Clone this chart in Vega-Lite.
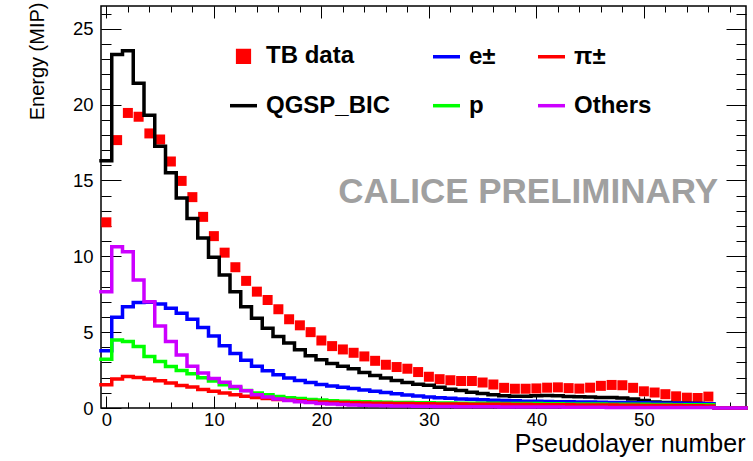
{
  "$schema": "https://vega.github.io/schema/vega-lite/v6.json",
  "width": 645,
  "height": 402,
  "autosize": {"type": "none"},
  "padding": {"left": 101, "top": 6, "right": 7, "bottom": 53},
  "background": "white",
  "config": {
    "font": "Liberation Sans",
    "view": {"stroke": "black", "strokeWidth": 1.5},
    "axis": {"grid": false, "domain": false, "labelFlush": false, "labelOverlap": false, "tickColor": "black", "labelColor": "black", "titleColor": "black", "tickWidth": 1}
  },
  "datasets": {
    "hist": [
      {"bin": 0, "lo": -0.5, "tb": 12.24, "qgsp": 16.3, "e": 3.77, "p": 3.22, "pi": 1.53, "oth": 7.67},
      {"bin": 1, "lo": 0.5, "tb": 17.66, "qgsp": 23.3, "e": 5.99, "p": 4.49, "pi": 1.91, "oth": 10.63},
      {"bin": 2, "lo": 1.5, "tb": 19.45, "qgsp": 23.55, "e": 6.68, "p": 4.38, "pi": 2.08, "oth": 10.3},
      {"bin": 3, "lo": 2.5, "tb": 19.2, "qgsp": 21.4, "e": 6.95, "p": 4.05, "pi": 2.01, "oth": 8.44},
      {"bin": 4, "lo": 3.5, "tb": 18.1, "qgsp": 19.3, "e": 6.97, "p": 3.4, "pi": 1.91, "oth": 7.01},
      {"bin": 5, "lo": 4.5, "tb": 17.7, "qgsp": 17.25, "e": 6.86, "p": 3.07, "pi": 1.8, "oth": 5.41},
      {"bin": 6, "lo": 5.5, "tb": 16.25, "qgsp": 15.5, "e": 6.58, "p": 2.74, "pi": 1.64, "oth": 4.38},
      {"bin": 7, "lo": 6.5, "tb": 14.97, "qgsp": 13.85, "e": 6.25, "p": 2.47, "pi": 1.49, "oth": 3.5},
      {"bin": 8, "lo": 7.5, "tb": 13.9, "qgsp": 12.5, "e": 5.85, "p": 2.26, "pi": 1.38, "oth": 2.75},
      {"bin": 9, "lo": 8.5, "tb": 12.6, "qgsp": 11.2, "e": 5.3, "p": 2.0, "pi": 1.22, "oth": 2.3},
      {"bin": 10, "lo": 9.5, "tb": 11.33, "qgsp": 9.93, "e": 4.75, "p": 1.78, "pi": 1.1, "oth": 1.95},
      {"bin": 11, "lo": 10.5, "tb": 10.24, "qgsp": 8.77, "e": 4.1, "p": 1.53, "pi": 0.99, "oth": 1.7},
      {"bin": 12, "lo": 11.5, "tb": 9.28, "qgsp": 7.67, "e": 3.6, "p": 1.32, "pi": 0.88, "oth": 1.42},
      {"bin": 13, "lo": 12.5, "tb": 8.38, "qgsp": 6.68, "e": 3.15, "p": 1.16, "pi": 0.78, "oth": 1.14},
      {"bin": 14, "lo": 13.5, "tb": 7.67, "qgsp": 5.92, "e": 2.75, "p": 0.99, "pi": 0.69, "oth": 0.88},
      {"bin": 15, "lo": 14.5, "tb": 7.12, "qgsp": 5.26, "e": 2.45, "p": 0.88, "pi": 0.62, "oth": 0.72},
      {"bin": 16, "lo": 15.5, "tb": 6.51, "qgsp": 4.71, "e": 2.2, "p": 0.76, "pi": 0.56, "oth": 0.6},
      {"bin": 17, "lo": 16.5, "tb": 5.85, "qgsp": 4.28, "e": 1.98, "p": 0.68, "pi": 0.51, "oth": 0.5},
      {"bin": 18, "lo": 17.5, "tb": 5.45, "qgsp": 3.84, "e": 1.82, "p": 0.62, "pi": 0.47, "oth": 0.42},
      {"bin": 19, "lo": 18.5, "tb": 5.0, "qgsp": 3.45, "e": 1.68, "p": 0.56, "pi": 0.43, "oth": 0.36},
      {"bin": 20, "lo": 19.5, "tb": 4.45, "qgsp": 3.18, "e": 1.55, "p": 0.52, "pi": 0.4, "oth": 0.3},
      {"bin": 21, "lo": 20.5, "tb": 4.08, "qgsp": 2.94, "e": 1.45, "p": 0.48, "pi": 0.38, "oth": 0.26},
      {"bin": 22, "lo": 21.5, "tb": 3.86, "qgsp": 2.75, "e": 1.36, "p": 0.45, "pi": 0.36, "oth": 0.23},
      {"bin": 23, "lo": 22.5, "tb": 3.64, "qgsp": 2.58, "e": 1.28, "p": 0.43, "pi": 0.34, "oth": 0.2},
      {"bin": 24, "lo": 23.5, "tb": 3.4, "qgsp": 2.34, "e": 1.19, "p": 0.41, "pi": 0.33, "oth": 0.18},
      {"bin": 25, "lo": 24.5, "tb": 3.11, "qgsp": 2.14, "e": 1.1, "p": 0.39, "pi": 0.32, "oth": 0.16},
      {"bin": 26, "lo": 25.5, "tb": 2.85, "qgsp": 1.97, "e": 1.03, "p": 0.38, "pi": 0.31, "oth": 0.15},
      {"bin": 27, "lo": 26.5, "tb": 2.7, "qgsp": 1.81, "e": 0.94, "p": 0.37, "pi": 0.3, "oth": 0.14},
      {"bin": 28, "lo": 27.5, "tb": 2.59, "qgsp": 1.68, "e": 0.86, "p": 0.36, "pi": 0.29, "oth": 0.13},
      {"bin": 29, "lo": 28.5, "tb": 2.37, "qgsp": 1.57, "e": 0.79, "p": 0.35, "pi": 0.28, "oth": 0.12},
      {"bin": 30, "lo": 29.5, "tb": 2.06, "qgsp": 1.5, "e": 0.73, "p": 0.34, "pi": 0.28, "oth": 0.11},
      {"bin": 31, "lo": 30.5, "tb": 1.9, "qgsp": 1.37, "e": 0.68, "p": 0.33, "pi": 0.27, "oth": 0.1},
      {"bin": 32, "lo": 31.5, "tb": 1.83, "qgsp": 1.24, "e": 0.64, "p": 0.33, "pi": 0.26, "oth": 0.1},
      {"bin": 33, "lo": 32.5, "tb": 1.78, "qgsp": 1.15, "e": 0.6, "p": 0.32, "pi": 0.26, "oth": 0.09},
      {"bin": 34, "lo": 33.5, "tb": 1.78, "qgsp": 1.04, "e": 0.57, "p": 0.32, "pi": 0.25, "oth": 0.09},
      {"bin": 35, "lo": 34.5, "tb": 1.68, "qgsp": 0.96, "e": 0.54, "p": 0.31, "pi": 0.25, "oth": 0.08},
      {"bin": 36, "lo": 35.5, "tb": 1.55, "qgsp": 0.88, "e": 0.51, "p": 0.31, "pi": 0.24, "oth": 0.08},
      {"bin": 37, "lo": 36.5, "tb": 1.33, "qgsp": 0.8, "e": 0.49, "p": 0.3, "pi": 0.24, "oth": 0.07},
      {"bin": 38, "lo": 37.5, "tb": 1.27, "qgsp": 0.77, "e": 0.47, "p": 0.3, "pi": 0.23, "oth": 0.07},
      {"bin": 39, "lo": 38.5, "tb": 1.27, "qgsp": 0.77, "e": 0.45, "p": 0.29, "pi": 0.23, "oth": 0.07},
      {"bin": 40, "lo": 39.5, "tb": 1.29, "qgsp": 0.8, "e": 0.44, "p": 0.29, "pi": 0.22, "oth": 0.06},
      {"bin": 41, "lo": 40.5, "tb": 1.34, "qgsp": 0.82, "e": 0.43, "p": 0.28, "pi": 0.22, "oth": 0.06},
      {"bin": 42, "lo": 41.5, "tb": 1.36, "qgsp": 0.8, "e": 0.42, "p": 0.28, "pi": 0.21, "oth": 0.06},
      {"bin": 43, "lo": 42.5, "tb": 1.31, "qgsp": 0.76, "e": 0.41, "p": 0.27, "pi": 0.21, "oth": 0.05},
      {"bin": 44, "lo": 43.5, "tb": 1.28, "qgsp": 0.74, "e": 0.4, "p": 0.27, "pi": 0.2, "oth": 0.05},
      {"bin": 45, "lo": 44.5, "tb": 1.34, "qgsp": 0.72, "e": 0.39, "p": 0.26, "pi": 0.2, "oth": 0.05},
      {"bin": 46, "lo": 45.5, "tb": 1.46, "qgsp": 0.7, "e": 0.38, "p": 0.26, "pi": 0.19, "oth": 0.05},
      {"bin": 47, "lo": 46.5, "tb": 1.52, "qgsp": 0.69, "e": 0.37, "p": 0.25, "pi": 0.19, "oth": 0.04},
      {"bin": 48, "lo": 47.5, "tb": 1.5, "qgsp": 0.66, "e": 0.36, "p": 0.25, "pi": 0.18, "oth": 0.04},
      {"bin": 49, "lo": 48.5, "tb": 1.33, "qgsp": 0.6, "e": 0.35, "p": 0.24, "pi": 0.18, "oth": 0.04},
      {"bin": 50, "lo": 49.5, "tb": 1.1, "qgsp": 0.5, "e": 0.34, "p": 0.24, "pi": 0.17, "oth": 0.04},
      {"bin": 51, "lo": 50.5, "tb": 1.02, "qgsp": 0.4, "e": 0.33, "p": 0.23, "pi": 0.17, "oth": 0.03},
      {"bin": 52, "lo": 51.5, "tb": 0.91, "qgsp": 0.36, "e": 0.32, "p": 0.23, "pi": 0.16, "oth": 0.03},
      {"bin": 53, "lo": 52.5, "tb": 0.77, "qgsp": 0.33, "e": 0.31, "p": 0.22, "pi": 0.16, "oth": 0.03},
      {"bin": 54, "lo": 53.5, "tb": 0.68, "qgsp": 0.31, "e": 0.3, "p": 0.22, "pi": 0.15, "oth": 0.03},
      {"bin": 55, "lo": 54.5, "tb": 0.66, "qgsp": 0.3, "e": 0.29, "p": 0.21, "pi": 0.15, "oth": 0.03},
      {"bin": 56, "lo": 55.5, "tb": 0.75, "qgsp": 0.28, "e": 0.28, "p": 0.21, "pi": 0.14, "oth": 0.03},
      {"bin": 57, "lo": 56.5, "tb": null, "qgsp": 0, "e": 0, "p": 0, "pi": 0, "oth": 0},
      {"bin": 58, "lo": 57.5, "tb": null, "qgsp": 0, "e": 0, "p": 0, "pi": 0, "oth": 0},
      {"bin": 59, "lo": 58.5, "tb": null, "qgsp": 0, "e": 0, "p": 0, "pi": 0, "oth": 0},
      {"bin": null, "lo": 59.5, "tb": null, "qgsp": 0, "e": 0, "p": 0, "pi": 0, "oth": 0}
    ]
  },
  "data": {"name": "hist"},
  "resolve": {"axis": {"x": "independent", "y": "independent"}},
  "layer": [
    {
      "data": {"values": [{"note": "CALICE PRELIMINARY"}]},
      "mark": {"type": "text", "align": "right", "baseline": "alphabetic", "fontSize": 35, "fontWeight": "bold", "color": "#a0a0a0", "font": "Liberation Sans"},
      "encoding": {
        "x": {"datum": 56.9, "type": "quantitative", "scale": {"domain": [-0.5, 59.5], "nice": false, "zero": false}, "axis": null},
        "y": {"datum": 13.52, "type": "quantitative", "scale": {"domain": [0, 26.5], "nice": false, "zero": false}, "axis": null},
        "text": {"field": "note"}
      }
    },
    {
      "mark": {"type": "point", "shape": "square", "filled": true, "size": 100, "opacity": 1, "strokeWidth": 0},
      "encoding": {
        "x": {"field": "bin", "type": "quantitative", "scale": {"domain": [-0.5, 59.5], "nice": false, "zero": false},
          "axis": {"orient": "bottom", "values": [0, 10, 20, 30, 40, 50], "tickSize": -12, "labelPadding": 14.6, "labelFontSize": 18.5, "labelFont": "Liberation Sans",
            "title": "Pseudolayer number", "titleFont": "Liberation Sans", "titleFontSize": 25, "titleFontWeight": "normal", "titleAnchor": "end", "titleAlign": "right", "titleBaseline": "alphabetic", "titleX": 644, "titleY": 43}},
        "y": {"field": "tb", "type": "quantitative", "scale": {"domain": [0, 26.5], "nice": false, "zero": false},
          "axis": {"orient": "left", "values": [0, 5, 10, 15, 20, 25], "tickSize": -20, "labelPadding": 28, "labelFontSize": 18.5, "labelFont": "Liberation Sans", "labelBaseline": "middle",
            "title": "Energy (MIP)", "titleFont": "Liberation Sans", "titleFontSize": 20, "titleFontWeight": "normal", "titleAnchor": "end", "titleAlign": "right", "titleBaseline": "alphabetic", "titleAngle": -90, "titleX": -58, "titleY": -4}},
        "color": {"datum": "tb",
          "scale": {"domain": ["tb", "e", "pi", "qgsp", "p", "oth"], "range": ["#ff0000", "#0000ff", "#ff0000", "#000000", "#00ff00", "#cc00ff"]},
          "legend": {
            "title": null, "orient": "none", "legendX": 127, "legendY": 34.5, "direction": "horizontal", "columns": 3, "columnPadding": 35, "rowPadding": 20.7, "padding": 0, "offset": 0,
            "symbolSize": 729, "symbolStrokeWidth": 3.5, "symbolOpacity": 1, "labelOffset": 7, "labelFont": "Liberation Sans", "labelFontSize": 24, "labelFontWeight": "bold", "labelColor": "black", "labelLimit": 400,
            "labelExpr": "{'tb':'TB data','e':'e±','pi':'π±','qgsp':'QGSP_BIC\u00a0\u00a0\u00a0\u00a0\u00a0','p':'p','oth':'Others'}[datum.value]",
            "encode": {"symbols": {"update": {
              "shape": {"signal": "datum.value === 'tb' ? 'square' : 'stroke'"},
              "size": {"signal": "datum.value === 'tb' ? 137 : 729"},
              "fill": {"signal": "datum.value === 'tb' ? '#ff0000' : 'transparent'"},
              "stroke": {"signal": "datum.value === 'tb' ? 'transparent' : scale('color', datum.value)"},
              "strokeWidth": {"value": 3.5},
              "opacity": {"value": 1}
            }}}
          }
        }
      }
    },
    {
      "mark": {"type": "line", "interpolate": "step-after", "strokeWidth": 3.5, "strokeJoin": "miter", "strokeCap": "square"},
      "encoding": {
        "x": {"field": "lo", "type": "quantitative", "scale": {"domain": [-0.5, 59.5], "nice": false, "zero": false},
          "axis": {"orient": "bottom", "values": [0, 2, 4, 6, 8, 10, 12, 14, 16, 18, 20, 22, 24, 26, 28, 30, 32, 34, 36, 38, 40, 42, 44, 46, 48, 50, 52, 54, 56, 58], "tickSize": -6, "labels": false, "title": null}},
        "y": {"field": "qgsp", "type": "quantitative", "scale": {"domain": [0, 26.5], "nice": false, "zero": false},
          "axis": {"orient": "left", "values": [0, 1, 2, 3, 4, 5, 6, 7, 8, 9, 10, 11, 12, 13, 14, 15, 16, 17, 18, 19, 20, 21, 22, 23, 24, 25, 26], "tickSize": -10, "labels": false, "title": null}},
        "color": {"datum": "qgsp", "scale": {"domain": ["tb", "e", "pi", "qgsp", "p", "oth"], "range": ["#ff0000", "#0000ff", "#ff0000", "#000000", "#00ff00", "#cc00ff"]}}
      }
    },
    {
      "mark": {"type": "line", "interpolate": "step-after", "strokeWidth": 3.5, "strokeJoin": "miter", "strokeCap": "square"},
      "encoding": {
        "x": {"field": "lo", "type": "quantitative", "scale": {"domain": [-0.5, 59.5], "nice": false, "zero": false},
          "axis": {"orient": "top", "values": [0, 10, 20, 30, 40, 50], "tickSize": -12, "labels": false, "title": null}},
        "y": {"field": "e", "type": "quantitative", "scale": {"domain": [0, 26.5], "nice": false, "zero": false},
          "axis": {"orient": "right", "values": [0, 5, 10, 15, 20, 25], "tickSize": -20, "labels": false, "title": null}},
        "color": {"datum": "e", "scale": {"domain": ["tb", "e", "pi", "qgsp", "p", "oth"], "range": ["#ff0000", "#0000ff", "#ff0000", "#000000", "#00ff00", "#cc00ff"]}}
      }
    },
    {
      "mark": {"type": "line", "interpolate": "step-after", "strokeWidth": 3.5, "strokeJoin": "miter", "strokeCap": "square"},
      "encoding": {
        "x": {"field": "lo", "type": "quantitative", "scale": {"domain": [-0.5, 59.5], "nice": false, "zero": false},
          "axis": {"orient": "top", "values": [0, 2, 4, 6, 8, 10, 12, 14, 16, 18, 20, 22, 24, 26, 28, 30, 32, 34, 36, 38, 40, 42, 44, 46, 48, 50, 52, 54, 56, 58], "tickSize": -6, "labels": false, "title": null}},
        "y": {"field": "p", "type": "quantitative", "scale": {"domain": [0, 26.5], "nice": false, "zero": false},
          "axis": {"orient": "right", "values": [0, 1, 2, 3, 4, 5, 6, 7, 8, 9, 10, 11, 12, 13, 14, 15, 16, 17, 18, 19, 20, 21, 22, 23, 24, 25, 26], "tickSize": -10, "labels": false, "title": null}},
        "color": {"datum": "p", "scale": {"domain": ["tb", "e", "pi", "qgsp", "p", "oth"], "range": ["#ff0000", "#0000ff", "#ff0000", "#000000", "#00ff00", "#cc00ff"]}}
      }
    },
    {
      "mark": {"type": "line", "interpolate": "step-after", "strokeWidth": 3.5, "strokeJoin": "miter", "strokeCap": "square"},
      "encoding": {
        "x": {"field": "lo", "type": "quantitative", "scale": {"domain": [-0.5, 59.5], "nice": false, "zero": false}, "axis": null},
        "y": {"field": "pi", "type": "quantitative", "scale": {"domain": [0, 26.5], "nice": false, "zero": false}, "axis": null},
        "color": {"datum": "pi", "scale": {"domain": ["tb", "e", "pi", "qgsp", "p", "oth"], "range": ["#ff0000", "#0000ff", "#ff0000", "#000000", "#00ff00", "#cc00ff"]}}
      }
    },
    {
      "mark": {"type": "line", "interpolate": "step-after", "strokeWidth": 3.5, "strokeJoin": "miter", "strokeCap": "square"},
      "encoding": {
        "x": {"field": "lo", "type": "quantitative", "scale": {"domain": [-0.5, 59.5], "nice": false, "zero": false}, "axis": null},
        "y": {"field": "oth", "type": "quantitative", "scale": {"domain": [0, 26.5], "nice": false, "zero": false}, "axis": null},
        "color": {"datum": "oth", "scale": {"domain": ["tb", "e", "pi", "qgsp", "p", "oth"], "range": ["#ff0000", "#0000ff", "#ff0000", "#000000", "#00ff00", "#cc00ff"]}}
      }
    }
  ]
}
